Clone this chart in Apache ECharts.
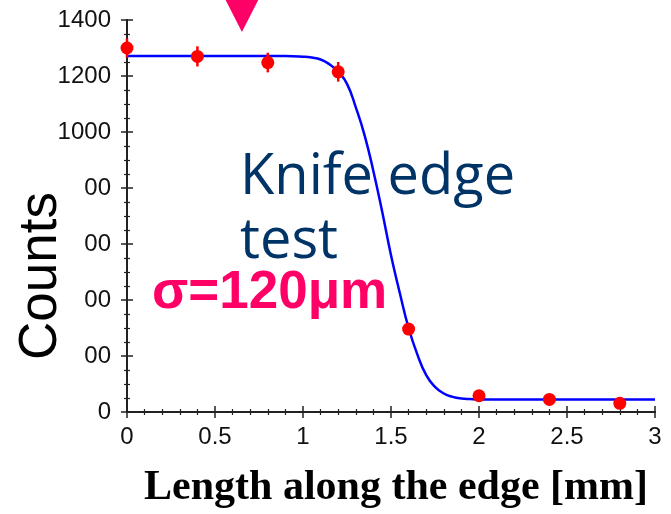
<!DOCTYPE html>
<html>
<head>
<meta charset="utf-8">
<title>Knife edge test</title>
<script src="https://cdn.jsdelivr.net/npm/echarts@6/dist/echarts.min.js"></script>
<style>
  html, body { margin: 0; padding: 0; background: #fff; }
  #chart { width: 671px; height: 514px; }
</style>
</head>
<body>
<div id="chart"></div>
<script>
// measured points (position in mm, counts, error)
const positions = [0, 0.4, 0.8, 1.2, 1.6, 2.0, 2.4, 2.8]
const counts = [1300, 1270, 1248, 1215, 296, 58, 45, 31]
const errors = [34, 36, 35, 35, 17, 8, 7, 6]

// fitted edge curve
const fitX = [0, 0.6, 0.9, 1.0, 1.05, 1.1, 1.15, 1.2, 1.25, 1.3, 1.35, 1.4, 1.45, 1.5,
  1.55, 1.6, 1.65, 1.7, 1.75, 1.8, 1.85, 1.9, 1.95, 2.0, 2.5, 3.0]
const fitY = [1271, 1271, 1271, 1269, 1266, 1259, 1242, 1215, 1172, 1088, 988, 860, 715, 560,
  425, 300, 205, 132, 90, 66, 54, 48, 46, 45, 45, 45]

// marker for the beam position at the top
const markerPos = [[0.653, 1443]]

// axis ranges
const xMin = 0, xMax = 3, xStep = 0.5
const yMin = 0, yMax = 1400, yStep = 200

const chart = echarts.init(document.getElementById('chart'))

const axisLine = { show: true, lineStyle: { color: '#222', width: 2 } }
const axisTick = { show: true, inside: true, length: 6, lineStyle: { color: '#222', width: 1.5 } }
const minorTickStyle = { length: 3, lineStyle: { color: '#222', width: 1.2 } }
const labelFont = { color: '#111', fontSize: 24, fontFamily: 'Liberation Sans' }

const option = {
  animation: false,
  grid: { left: 127, top: 20, right: 16, bottom: 102 },
  xAxis: [
    {
      type: 'value', min: xMin, max: xMax, interval: xStep,
      axisLine, axisTick,
      minorTick: { show: true, splitNumber: 5, ...minorTickStyle },
      splitLine: { show: false },
      axisLabel: { ...labelFont, margin: 13, formatter: (v) => String(v) }
    },
    {
      type: 'value', position: 'top', min: xMin, max: xMax, interval: xStep,
      axisLine, axisTick,
      minorTick: { show: true, splitNumber: 5, ...minorTickStyle },
      splitLine: { show: false },
      axisLabel: { show: false }
    }
  ],
  yAxis: [
    {
      type: 'value', min: yMin, max: yMax, interval: yStep,
      axisLine, axisTick,
      minorTick: { show: true, splitNumber: 4, ...minorTickStyle },
      splitLine: { show: false },
      axisLabel: { ...labelFont, margin: 16, formatter: (v) => String(v) }
    },
    {
      type: 'value', position: 'right', min: yMin, max: yMax, interval: yStep,
      axisLine, axisTick,
      minorTick: { show: true, splitNumber: 4, ...minorTickStyle },
      splitLine: { show: false },
      axisLabel: { show: false }
    }
  ],
  series: [
    {
      name: 'fit',
      type: 'line',
      data: fitX.map((x, i) => [x, fitY[i]]),
      smooth: 0.5,
      showSymbol: false,
      lineStyle: { color: '#0000ff', width: 2.5 },
      z: 3
    },
    {
      // error bars
      name: 'errors',
      type: 'custom',
      data: positions.map((x, i) => [x, counts[i] - errors[i], counts[i] + errors[i]]),
      renderItem: (params, api) => {
        const lo = api.coord([api.value(0), api.value(1)])
        const hi = api.coord([api.value(0), api.value(2)])
        return {
          type: 'line',
          shape: { x1: lo[0], y1: lo[1], x2: hi[0], y2: hi[1] },
          style: { stroke: '#ff0000', lineWidth: 2.5 }
        }
      },
      z: 4
    },
    {
      name: 'data',
      type: 'scatter',
      data: positions.map((x, i) => [x, counts[i]]),
      symbol: 'circle',
      symbolSize: 13,
      itemStyle: { color: '#ff0000', opacity: 1 },
      z: 5
    },
    {
      name: 'marker',
      type: 'scatter',
      data: markerPos,
      symbol: 'triangle',
      symbolRotate: 180,
      symbolSize: [49, 48],
      clip: false,
      itemStyle: { color: '#ff0066', opacity: 1 },
      z: 6
    }
  ],
  graphic: [
    // white box that hides part of the y labels behind the axis title
    {
      type: 'rect', left: 0, top: 148, z: 10,
      shape: { width: 84, height: 228 },
      style: { fill: '#fff' }
    },
    {
      type: 'text', x: 41, y: 276, rotation: Math.PI / 2, z: 11,
      style: {
        text: 'Counts', fill: '#000', font: '53px "Liberation Sans"',
        align: 'center', verticalAlign: 'middle'
      }
    },
    {
      type: 'text', x: 240, y: 178, z: 11,
      style: {
        text: 'Knife edge', fill: '#003366', font: '56px "Open Sans"',
        align: 'left', verticalAlign: 'middle'
      }
    },
    {
      type: 'text', x: 240, y: 242, z: 11,
      style: {
        text: 'test', fill: '#003366', font: '56px "Open Sans"',
        align: 'left', verticalAlign: 'middle'
      }
    },
    {
      type: 'text', x: 152, y: 293, z: 11,
      style: {
        text: 'σ=120μm', fill: '#ff0066', font: 'bold 53px "Liberation Sans"',
        align: 'left', verticalAlign: 'middle'
      }
    },
    {
      type: 'text', x: 396, y: 488, z: 11,
      style: {
        text: 'Length along the edge [mm]', fill: '#000', font: 'bold 42px "Liberation Serif"',
        align: 'center', verticalAlign: 'middle'
      }
    }
  ]
}

chart.setOption(option)
window.addEventListener('resize', () => chart.resize())
</script>
</body>
</html>
